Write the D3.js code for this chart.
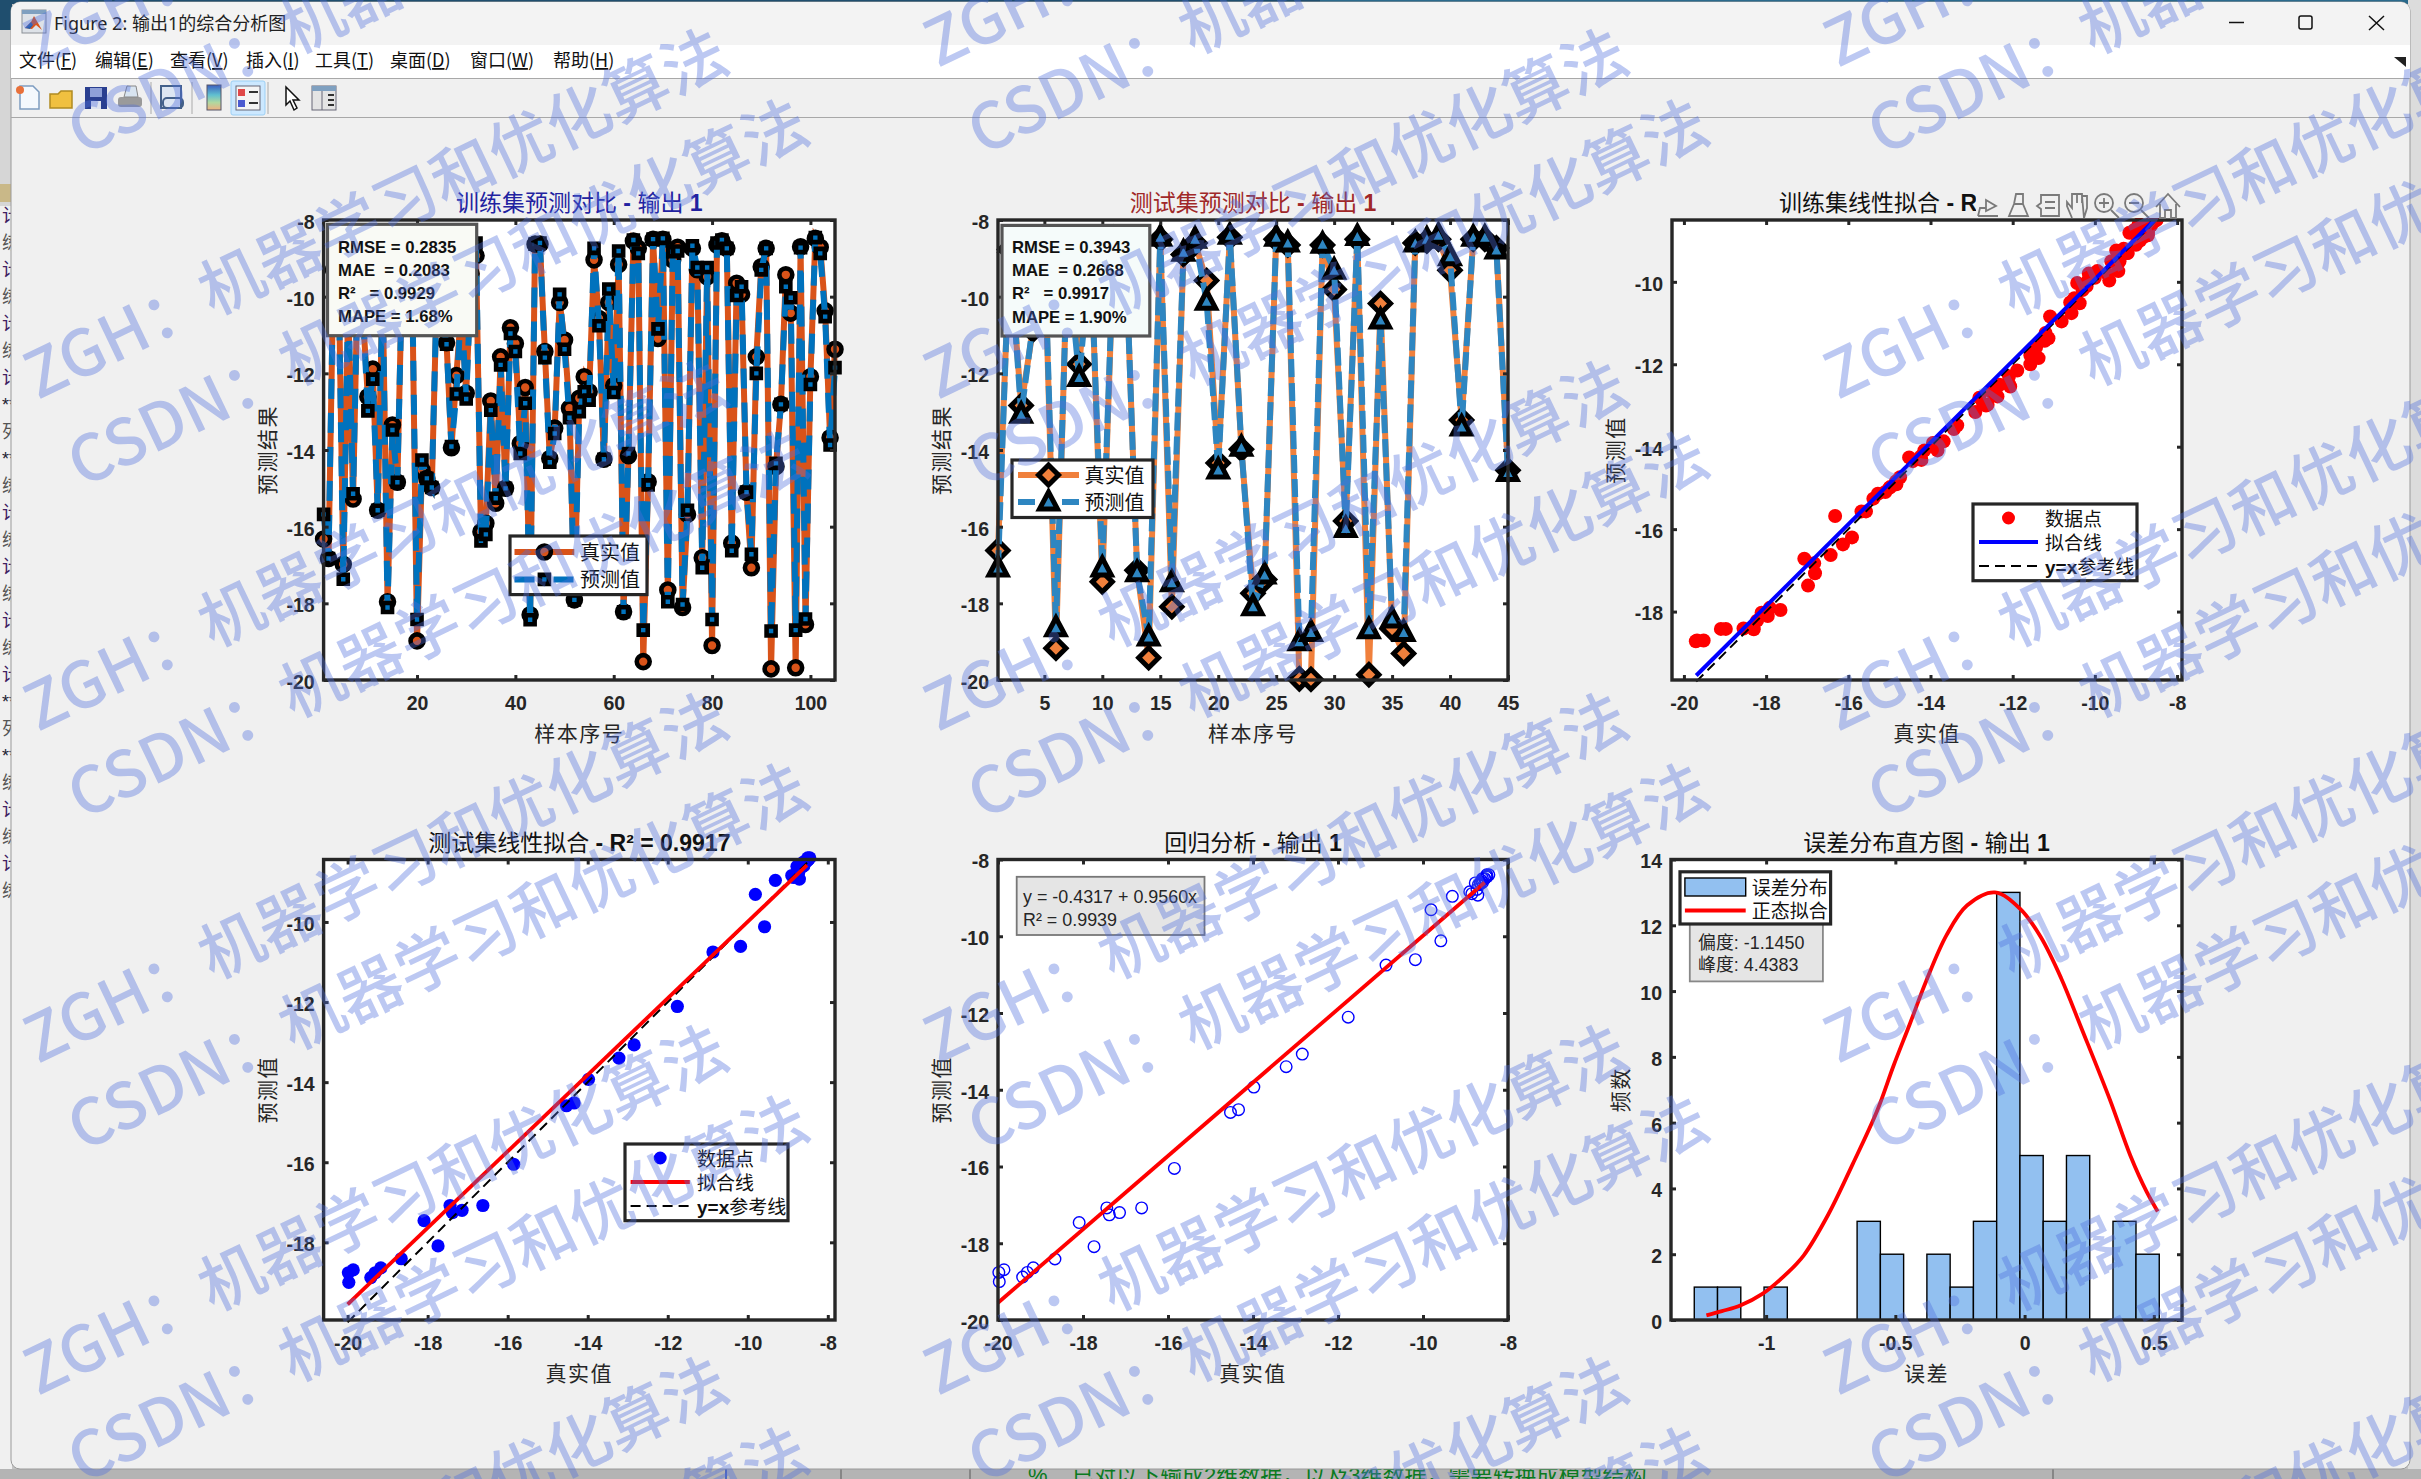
<!DOCTYPE html>
<html>
<head>
<meta charset="utf-8">
<title>Figure 2</title>
<script src="https://cdn.jsdelivr.net/npm/d3@7"></script>
<style>
  html, body { margin: 0; padding: 0; background: #c4c4c4; }
  svg { display: block; }
  text { font-family: "Liberation Sans", "Noto Sans CJK SC", sans-serif; white-space: pre; }
</style>
</head>
<body>
<svg id="fig" width="2421" height="1479"></svg>
<script>
// ---- values ----
// values behind the stats boxes are estimates
const trainTrue = [-16.32,-16.83,-9.3,-8.9,-16.98,-10.2,-15.28,-9.0,-10.5,-12.61,-11.89,-15.57,-9.7,-17.96,-13.35,-14.84,-9.2,-8.8,-9.6,-18.98,-14.52,-14.74,-14.98,-10.0,-10.6,-11.2,-13.94,-12.06,-10.3,-12.52,-9.4,-8.93,-16.13,-15.91,-12.72,-15.39,-11.57,-15.0,-10.81,-11.22,-13.83,-12.37,-18.3,-8.63,-8.63,-11.43,-14.22,-13.43,-10.15,-11.13,-12.91,-17.91,-12.65,-12.09,-12.48,-9.04,-10.57,-14.24,-10.15,-12.32,-9.16,-18.22,-14.15,-8.55,-8.74,-19.52,-14.83,-8.5,-11.09,-8.5,-17.65,-9.04,-8.71,-18.11,-15.68,-8.74,-9.3,-16.81,-9.48,-19.1,-8.65,-8.54,-8.74,-16.43,-9.65,-9.94,-15.1,-17.07,-11.57,-9.22,-8.74,-19.71,-14.43,-12.81,-9.43,-10.43,-19.68,-8.7,-18.55,-12.09,-8.48,-8.71,-10.37,-13.68,-11.37];
const trainPred = [-15.68,-16.83,-9.2,-9.0,-17.37,-10.1,-15.14,-9.1,-10.4,-12.98,-12.15,-15.57,-9.8,-18.11,-13.48,-14.84,-9.3,-8.9,-9.5,-18.42,-14.26,-14.74,-14.98,-9.9,-10.5,-11.24,-13.91,-12.54,-10.2,-12.67,-9.5,-8.6,-16.37,-16.2,-12.96,-15.26,-11.78,-15.0,-10.96,-11.43,-14.09,-12.78,-18.43,-8.63,-8.6,-11.59,-14.32,-13.57,-9.94,-11.37,-13.16,-17.91,-13.0,-12.48,-12.7,-8.74,-10.76,-14.24,-9.8,-12.5,-8.81,-18.22,-14.09,-8.52,-8.87,-18.7,-14.91,-8.5,-10.84,-8.48,-17.96,-8.83,-8.81,-18.03,-15.57,-8.67,-9.24,-17.07,-9.24,-18.42,-8.6,-8.52,-8.74,-16.63,-9.97,-9.74,-15.1,-16.72,-12.0,-9.3,-8.74,-18.72,-14.35,-12.81,-9.74,-10.03,-18.7,-8.72,-18.41,-12.29,-8.46,-8.87,-10.52,-13.87,-11.85];

const testTrue = [-16.62,-8.77,-12.84,-10.87,-8.62,-19.17,-8.71,-11.76,-8.85,-17.44,-8.55,-8.7,-17.14,-19.42,-8.5,-18.09,-8.9,-8.6,-9.58,-14.34,-8.45,-13.98,-17.74,-17.38,-8.5,-8.65,-19.97,-19.98,-8.65,-9.81,-15.85,-8.5,-19.86,-10.18,-18.66,-19.31,-8.6,-8.55,-8.5,-9.31,-13.22,-8.5,-8.5,-8.73,-14.53];
const testPred = [-17.08,-8.61,-13.07,-10.75,-8.55,-18.64,-8.93,-12.11,-8.89,-17.08,-8.5,-8.66,-17.2,-18.88,-8.45,-17.46,-8.84,-8.5,-10.12,-14.52,-8.4,-13.93,-18.09,-17.26,-8.45,-8.6,-19.0,-18.76,-8.63,-9.31,-16.05,-8.43,-18.69,-10.61,-18.41,-18.76,-8.6,-8.5,-8.4,-8.96,-13.4,-8.45,-8.45,-8.78,-14.59];

const fitTrainX = [-19.7, -8.55];
const fitTrainY = [-19.55, -8.5];
const refTrainX = [-19.7, -8.5];
const fitTestX = [-20, -8.52];
const fitTestY = [-19.55, -8.58];
const refTestX = [-20, -8.5];
const fitRegX = [-20, -8.55];
const fitRegY = [-19.55, -8.6];

const histEdges = [-1.278,-1.188,-1.098,-1.008,-0.918,-0.828,-0.738,-0.648,-0.558,-0.468,-0.378,-0.288,-0.198,-0.108,-0.018,0.072,0.162,0.252,0.342,0.431,0.521];
const histCounts = [1,1,0,1,0,0,0,3,2,0,2,1,3,13,5,3,5,0,3,2];
const normalX = [-1.231,-1.171,-1.10,-1.013,-0.934,-0.855,-0.76,-0.665,-0.57,-0.507,-0.444,-0.381,-0.302,-0.223,-0.115,-0.017,0.062,0.141,0.22,0.33,0.409,0.472,0.515];
const normalY = [0.14,0.27,0.44,0.80,1.31,1.96,3.20,4.74,6.37,7.73,9.0,10.3,11.7,12.6,13.0,12.5,11.65,10.4,8.87,6.7,5.0,3.9,3.3];

const yTicks = [-8,-10,-12,-14,-16,-18,-20];
const yTicksInner = [-10,-12,-14,-16,-18];
const xTicksScatter = [-20,-18,-16,-14,-12,-10,-8];

const menuItems = [['文件','F'],['编辑','E'],['查看','V'],['插入','I'],['工具','T'],['桌面','D'],['窗口','W'],['帮助','H']];
const editorFragments = ['计','练','计','练','计','练','计','**','列','**','练','计','练','计','练','计','练','计','**','列','**','练','计','练','计','练'];

// ---- colours ----
const orange1 = '#d95319', blue1 = '#0072bd';
const orange2 = '#f0803c', blue2 = '#2e86c1';
const axisColor = '#262626';

const svg = d3.select('#fig');

// ---- desktop behind the window ----
svg.append('rect').attr('width', 2421).attr('height', 1479).attr('fill', '#c4c4c4');
svg.append('rect').attr('width', 1320).attr('height', 4).attr('fill', '#1f4e6e');
svg.append('rect').attr('x', 1320).attr('width', 1101).attr('height', 4).attr('fill', '#2a6a8c');
svg.append('rect').attr('width', 12).attr('height', 30).attr('fill', '#1f4e6e');
svg.append('rect').attr('y', 30).attr('width', 12).attr('height', 176).attr('fill', '#d6d6d6');
svg.append('rect').attr('y', 206).attr('width', 12).attr('height', 1263).attr('fill', '#f0f0f0');
svg.append('rect').attr('y', 184).attr('width', 11).attr('height', 18).attr('fill', '#c9b888');
svg.append('rect').attr('x', 2408).attr('width', 13).attr('height', 1479).attr('fill', '#dcdcdc');
svg.selectAll('.frag').data(editorFragments).join('text')
    .attr('class', 'frag')
    .attr('x', 2)
    .attr('y', (d, i) => 222 + i * 27)
    .attr('font-size', 18)
    .attr('fill', d => d === '**' ? '#223' : (d === '计' ? '#402060' : '#555'))
    .text(d => d);
svg.append('rect').attr('y', 1469).attr('width', 2421).attr('height', 10).attr('fill', '#b4b4b4');
[726, 841, 970, 2053].forEach(x => {
    svg.append('line').attr('x1', x).attr('x2', x).attr('y1', 1469).attr('y2', 1479)
        .attr('stroke', x === 726 ? '#3050c0' : '#777').attr('stroke-width', 1.5);
});
svg.append('text').attr('x', 1028).attr('y', 1483).attr('font-size', 22).attr('fill', '#0a7a20')
    .text('%    已对以下输成2维数据，以及3维数据，需要转换成模型结构');

// ---- window ----
svg.append('rect').attr('x', 11).attr('y', 2).attr('width', 2399).attr('height', 1467).attr('rx', 9)
    .attr('fill', '#f0f0f0').attr('stroke', '#9a9a9a').attr('stroke-width', 1);
svg.append('path').attr('d', 'M11,45 V11 a9,9 0 0 1 9,-9 H2401 a9,9 0 0 1 9,9 V45 Z').attr('fill', '#f3f3f3');
svg.append('rect').attr('x', 11).attr('y', 45).attr('width', 2399).attr('height', 33).attr('fill', '#fff');
svg.append('line').attr('x1', 11).attr('x2', 2410).attr('y1', 78.5).attr('y2', 78.5).attr('stroke', '#a8a8a8').attr('stroke-width', 1.2);
svg.append('line').attr('x1', 11).attr('x2', 2410).attr('y1', 117.5).attr('y2', 117.5).attr('stroke', '#a8a8a8').attr('stroke-width', 1.2);

// title bar
const logo = svg.append('g').attr('transform', 'translate(22,10)');
logo.append('rect').attr('width', 24).attr('height', 23).attr('fill', '#dde2e8').attr('stroke', '#8a8f96');
logo.append('rect').attr('width', 24).attr('height', 4).attr('fill', '#7fa0c0');
logo.append('path').attr('d', 'M3,18 L9,12 L12,6 L20,20 L14,15 L10,19 Z').attr('fill', '#d9551e');
logo.append('path').attr('d', 'M3,18 L9,12 L11,15 L8,19 Z').attr('fill', '#2a5fa8');
svg.append('text').attr('x', 54).attr('y', 30).attr('font-size', 18).attr('fill', '#222')
    .style('font-family', '"Noto Sans", "Noto Sans CJK SC", sans-serif')
    .text('Figure 2: 输出1的综合分析图');

// window buttons
const winBtn = svg.append('g').attr('stroke', '#111').attr('stroke-width', 1.5).attr('fill', 'none');
winBtn.append('line').attr('x1', 2229).attr('x2', 2244).attr('y1', 22.5).attr('y2', 22.5);
winBtn.append('rect').attr('x', 2299).attr('y', 16).attr('width', 13).attr('height', 13).attr('rx', 2);
winBtn.append('path').attr('d', 'M2369,16 L2384,30 M2384,16 L2369,30');
svg.append('path').attr('d', 'M2394,57 L2406,57 L2406,67 Z').attr('fill', '#222');

// menu
const menuX = [19, 95, 170, 246, 315, 390, 470, 553];
menuItems.forEach((m, i) => {
    const t = svg.append('text').attr('x', menuX[i]).attr('y', 67).attr('font-size', 18).attr('fill', '#111')
        .style('font-family', '"Noto Sans CJK SC", sans-serif');
    t.append('tspan').text(m[0] + '(');
    t.append('tspan').attr('text-decoration', 'underline').text(m[1]);
    t.append('tspan').text(')');
});

// toolbar icons
function drawToolbar() {
    const g = svg.append('g');
    g.append('path').attr('d', 'M20,86 H33 L39,92 V109 H20 Z').attr('fill', '#f4f8fd').attr('stroke', '#7d9cc0').attr('stroke-width', 1.5);
    g.append('circle').attr('cx', 20).attr('cy', 90).attr('r', 4).attr('fill', '#e8703a');
    g.append('path').attr('d', 'M50,94 H58 L61,91 H72 V108 H50 Z').attr('fill', '#f0c040').attr('stroke', '#b08a20').attr('stroke-width', 1.5);
    g.append('rect').attr('x', 85).attr('y', 87).attr('width', 22).attr('height', 22).attr('fill', '#2a3f90');
    g.append('rect').attr('x', 90).attr('y', 88).attr('width', 12).attr('height', 9).attr('fill', '#8fa0d8');
    g.append('rect').attr('x', 91).attr('y', 101).attr('width', 10).attr('height', 8).attr('fill', '#dfe3ef');
    g.append('rect').attr('x', 118).attr('y', 97).attr('width', 24).attr('height', 10).attr('rx', 3).attr('fill', '#9a9a9a');
    g.append('path').attr('d', 'M124,97 L127,86 H136 L138,97 Z').attr('fill', '#d8e4f0').attr('stroke', '#888');
    g.append('line').attr('x1', 151).attr('x2', 151).attr('y1', 82).attr('y2', 114).attr('stroke', '#aaa');
    g.append('rect').attr('x', 161).attr('y', 86).attr('width', 20).attr('height', 22).attr('fill', '#dde6f2').attr('stroke', '#44618a').attr('stroke-width', 2);
    g.append('rect').attr('x', 163).attr('y', 98).attr('width', 20).attr('height', 10).attr('rx', 4).attr('fill', 'none').attr('stroke', '#44618a').attr('stroke-width', 2);
    g.append('line').attr('x1', 192).attr('x2', 192).attr('y1', 82).attr('y2', 114).attr('stroke', '#aaa');
    const grad = svg.append('defs').append('linearGradient').attr('id', 'cbar').attr('x1', 0).attr('x2', 0).attr('y1', 0).attr('y2', 1);
    [['0%', '#3b5fc0'], ['40%', '#60c0d0'], ['70%', '#b0d8a0'], ['100%', '#f0b080']].forEach(s => grad.append('stop').attr('offset', s[0]).attr('stop-color', s[1]));
    g.append('rect').attr('x', 207).attr('y', 85).attr('width', 14).attr('height', 25).attr('fill', 'url(#cbar)').attr('stroke', '#556');
    g.append('rect').attr('x', 231).attr('y', 81).attr('width', 34).attr('height', 34).attr('rx', 2).attr('fill', '#cce8ff').attr('stroke', '#9cd0f5');
    g.append('rect').attr('x', 236).attr('y', 86).attr('width', 24).attr('height', 24).attr('fill', '#f4f4f4').attr('stroke', '#667');
    g.append('rect').attr('x', 238).attr('y', 89).attr('width', 7).attr('height', 7).attr('fill', '#e04848');
    g.append('rect').attr('x', 238).attr('y', 100).attr('width', 7).attr('height', 7).attr('fill', '#4a5ad0');
    g.append('path').attr('d', 'M249,92 H258 M249,103 H258').attr('stroke', '#333').attr('stroke-width', 2);
    g.append('line').attr('x1', 268).attr('x2', 268).attr('y1', 82).attr('y2', 114).attr('stroke', '#aaa');
    g.append('path').attr('d', 'M286,87 L286,105 L290,101 L294,110 L297,108 L293,100 L299,100 Z').attr('fill', '#fff').attr('stroke', '#111').attr('stroke-width', 1.5);
    g.append('rect').attr('x', 312).attr('y', 86).attr('width', 24).attr('height', 24).attr('fill', '#e4e4e4').attr('stroke', '#667');
    g.append('rect').attr('x', 312).attr('y', 86).attr('width', 24).attr('height', 5).attr('fill', '#7fa0c0');
    g.append('path').attr('d', 'M328,95 H334 M328,100 H334 M328,105 H334').attr('stroke', '#333').attr('stroke-width', 2);
    g.append('line').attr('x1', 322).attr('x2', 322).attr('y1', 91).attr('y2', 110).attr('stroke', '#667');
}
drawToolbar();

// ---- chart helpers ----
const isCjk = ch => /[\u3000-\u9fff\uff00-\uffef]/.test(ch);

// CJK stays regular, latin parts come out bold, like the figure
function mixedText(sel, str, boldLatin) {
    const parts = str.match(/[\u3000-\u9fff\uff00-\uffef]+|[^\u3000-\u9fff\uff00-\uffef]+/g) || [];
    parts.forEach(p => {
        sel.append('tspan')
            .style('font-weight', !isCjk(p[0]) && boldLatin ? 'bold' : 'normal')
            .text(p);
    });
    return sel;
}

function makeAxes(opts) {
    const g = svg.append('g').attr('class', 'panel');
    const x = d3.scaleLinear().domain(opts.xDomain).range([opts.left, opts.right]);
    const y = d3.scaleLinear().domain(opts.yDomain).range([opts.bottom, opts.top]);
    g.append('rect').attr('x', opts.left).attr('y', opts.top)
        .attr('width', opts.right - opts.left).attr('height', opts.bottom - opts.top).attr('fill', '#fff');

    const layer = g.append('g').attr('class', 'marks');
    const frame = g.append('g').attr('class', 'frame');

    const styleAxis = a => {
        a.selectAll('.domain').remove();
        a.selectAll('.tick line').attr('stroke', axisColor).attr('stroke-width', 3);
        a.selectAll('text').attr('fill', axisColor).attr('font-size', 19.5).attr('font-weight', 'bold')
            .style('font-family', '"Liberation Sans", sans-serif');
    };
    const fmt = d => String(d);
    frame.append('g').attr('transform', `translate(0,${opts.bottom})`)
        .call(d3.axisBottom(x).tickValues(opts.xTicks).tickSize(-5).tickPadding(16.5).tickFormat(fmt)).call(styleAxis);
    frame.append('g').attr('transform', `translate(0,${opts.top})`)
        .call(d3.axisTop(x).tickValues(opts.xTicks).tickSize(-5).tickFormat('')).call(styleAxis);
    const yAxisG = frame.append('g').attr('transform', `translate(${opts.left},0)`)
        .call(d3.axisLeft(y).tickValues(opts.yTicks).tickSize(-5).tickPadding(9).tickFormat(fmt)).call(styleAxis);
    yAxisG.selectAll('text').attr('dy', '0.43em');
    frame.append('g').attr('transform', `translate(${opts.right},0)`)
        .call(d3.axisRight(y).tickValues(opts.yTicks).tickSize(-5).tickFormat('')).call(styleAxis);
    frame.append('rect').attr('x', opts.left).attr('y', opts.top)
        .attr('width', opts.right - opts.left).attr('height', opts.bottom - opts.top)
        .attr('fill', 'none').attr('stroke', axisColor).attr('stroke-width', 3.4);

    // title
    const title = g.append('text').attr('y', opts.top - 9).attr('font-size', 23).attr('fill', opts.titleColor || '#111');
    if (opts.titleX !== undefined) {
        title.attr('x', opts.titleX);
    } else {
        title.attr('x', (opts.left + opts.right) / 2).attr('text-anchor', 'middle');
    }
    mixedText(title, opts.title, true);

    // axis labels
    g.append('text').attr('x', (opts.left + opts.right) / 2).attr('y', opts.bottom + 61).attr('text-anchor', 'middle')
        .attr('font-size', 21).attr('letter-spacing', 1.5).attr('fill', axisColor).text(opts.xLabel);
    g.append('text').attr('transform', `translate(${opts.yLabelX + 8},${(opts.top + opts.bottom) / 2}) rotate(-90)`)
        .attr('text-anchor', 'middle').attr('font-size', 21).attr('letter-spacing', 1.5).attr('fill', axisColor).text(opts.yLabel);

    return { g, x, y, layer };
}

const markerPaths = {
    diamond: 'M0,-10 L10,0 L0,10 L-10,0 Z',
    triangle: 'M0,-10 L9,7 L-9,7 Z',
    square: d3.symbol(d3.symbolSquare, 81)(),
    circle: d3.symbol(d3.symbolCircle, Math.PI * 42)()
};

function drawSeries(layer, xs, ys, scaleX, scaleY, s) {
    const line = d3.line().x((d, i) => scaleX(xs[i])).y(d => scaleY(d));
    layer.append('path').attr('d', line(ys)).attr('fill', 'none').attr('stroke', s.color)
        .attr('stroke-width', s.width).attr('stroke-dasharray', s.dash || null);
    layer.selectAll(null).data(ys).join('path')
        .attr('d', markerPaths[s.marker])
        .attr('transform', (d, i) => `translate(${scaleX(xs[i])},${scaleY(d)})`)
        .attr('fill', s.color).attr('stroke', '#000').attr('stroke-width', s.mw);
}

function statsBox(g, b) {
    g.append('rect').attr('x', b.x0).attr('y', b.y0).attr('width', b.x1 - b.x0).attr('height', b.y1 - b.y0)
        .attr('fill', b.fill).attr('stroke', b.stroke).attr('stroke-width', b.sw);
    b.lines.forEach((str, i) => {
        g.append('text').attr('x', b.tx).attr('y', b.ty[i]).attr('font-size', b.fs)
            .attr('font-weight', b.bold ? 'bold' : 'normal').attr('fill', b.color || '#111').text(str);
    });
}

function legendBox(g, b) {
    g.append('rect').attr('x', b.x0).attr('y', b.y0).attr('width', b.x1 - b.x0).attr('height', b.y1 - b.y0)
        .attr('fill', '#fff').attr('stroke', axisColor).attr('stroke-width', 3.2);
    b.rows.forEach(r => {
        if (r.line) {
            g.append('line').attr('x1', b.kx0).attr('x2', b.kx1).attr('y1', r.y).attr('y2', r.y)
                .attr('stroke', r.line).attr('stroke-width', r.width).attr('stroke-dasharray', r.dash || null);
        }
        if (r.patch) {
            g.append('rect').attr('x', b.kx0).attr('y', r.y - 9).attr('width', b.kx1 - b.kx0).attr('height', 18)
                .attr('fill', r.patch).attr('stroke', '#000').attr('stroke-width', 1.4);
        }
        if (r.marker) {
            g.append('path').attr('d', markerPaths[r.marker])
                .attr('transform', `translate(${(b.kx0 + b.kx1) / 2},${r.y})`)
                .attr('fill', r.fill).attr('stroke', r.mstroke).attr('stroke-width', r.mw);
        }
        const t = g.append('text').attr('x', b.tx).attr('y', r.y + 8).attr('font-size', b.fs).attr('fill', '#111');
        mixedText(t, r.label, true);
    });
}

// ---- top row ----
const rowTop = { top: 220, bottom: 680 };
const rowBot = { top: 859.5, bottom: 1320 };
const col1 = { left: 323.6, right: 835 };
const col2 = { left: 998, right: 1508 };
const col3 = { left: 1672, right: 2182 };

const trainIdx = trainTrue.map((d, i) => i + 1);
const testIdx = testTrue.map((d, i) => i + 1);

// train series
const p1 = makeAxes({ ...col1, ...rowTop, xDomain: [1, 105], yDomain: [-20, -8],
    xTicks: [20, 40, 60, 80, 100], yTicks,
    title: '训练集预测对比 - 输出 1', titleColor: '#2222a0', xLabel: '样本序号', yLabel: '预测结果', yLabelX: 267 });
drawSeries(p1.layer, trainIdx, trainTrue, p1.x, p1.y, { color: orange1, width: 6, marker: 'circle', mw: 4.6 });
drawSeries(p1.layer, trainIdx, trainPred, p1.x, p1.y, { color: blue1, width: 6, dash: '20 14', marker: 'square', mw: 4.6 });
statsBox(p1.g, { x0: 327.5, x1: 476.7, y0: 224.3, y1: 335.7, fill: '#f9faf5', stroke: '#555', sw: 3.2,
    tx: 338, ty: [253, 276, 299, 322], fs: 16.7, bold: true,
    lines: ['RMSE = 0.2835', 'MAE  = 0.2083', 'R²   = 0.9929', 'MAPE = 1.68%'] });
legendBox(p1.g, { x0: 510, x1: 647, y0: 536, y1: 594.6, kx0: 514.5, kx1: 574.3, tx: 580, fs: 20,
    rows: [
        { y: 552, line: orange1, width: 6, marker: 'circle', fill: orange1, mstroke: '#000', mw: 4.6, label: '真实值' },
        { y: 579.4, line: blue1, width: 6, dash: '20 19', marker: 'square', fill: blue1, mstroke: '#000', mw: 4.6, label: '预测值' }
    ] });

// test series
const p2 = makeAxes({ ...col2, ...rowTop, xDomain: [1, 45], yDomain: [-20, -8],
    xTicks: [5, 10, 15, 20, 25, 30, 35, 40, 45], yTicks,
    title: '测试集预测对比 - 输出 1', titleColor: '#a02828', xLabel: '样本序号', yLabel: '预测结果', yLabelX: 941 });
drawSeries(p2.layer, testIdx, testTrue, p2.x, p2.y, { color: orange2, width: 6, marker: 'diamond', mw: 5 });
drawSeries(p2.layer, testIdx, testPred, p2.x, p2.y, { color: blue2, width: 6, dash: '18 6', marker: 'triangle', mw: 5 });
statsBox(p2.g, { x0: 1002, x1: 1149.8, y0: 225.4, y1: 336, fill: '#f5fbfa', stroke: '#555', sw: 3.2,
    tx: 1012, ty: [253, 276, 299, 322.5], fs: 16.7, bold: true,
    lines: ['RMSE = 0.3943', 'MAE  = 0.2668', 'R²   = 0.9917', 'MAPE = 1.90%'] });
legendBox(p2.g, { x0: 1012, x1: 1153, y0: 460, y1: 517.5, kx0: 1018, kx1: 1079, tx: 1084.5, fs: 20,
    rows: [
        { y: 475, line: orange2, width: 6, marker: 'diamond', fill: orange2, mstroke: '#000', mw: 5, label: '真实值' },
        { y: 502, line: blue2, width: 6, dash: '17 27', marker: 'triangle', fill: blue2, mstroke: '#000', mw: 5, label: '预测值' }
    ] });

// scatter panels share this
function scatterPanel(p, xs, ys, s) {
    p.layer.selectAll(null).data(ys).join('circle')
        .attr('cx', (d, i) => p.x(xs[i])).attr('cy', d => p.y(d)).attr('r', s.r)
        .attr('fill', s.fill).attr('stroke', s.stroke).attr('stroke-width', s.sw);
}
function segment(p, xs, ys, color, width, dash) {
    const line = d3.line().x((d, i) => p.x(xs[i])).y(d => p.y(d));
    p.layer.append('path').attr('d', line(ys)).attr('fill', 'none')
        .attr('stroke', color).attr('stroke-width', width).attr('stroke-dasharray', dash || null);
}

const p3 = makeAxes({ ...col3, ...rowTop, xDomain: [-20.29, -7.88], yDomain: [-19.66, -8.5],
    xTicks: xTicksScatter, yTicks: yTicksInner, titleX: 1779,
    title: '训练集线性拟合 - R² = 0.9929', xLabel: '真实值', yLabel: '预测值', yLabelX: 1615 });
scatterPanel(p3, trainTrue, trainPred, { r: 7, fill: '#ff0000', stroke: 'none', sw: 0 });
segment(p3, refTrainX, refTrainX, '#000', 2, '10 6');
segment(p3, fitTrainX, fitTrainY, '#0000ff', 4);
legendBox(p3.g, { x0: 1973, x1: 2137, y0: 504, y1: 580.7, kx0: 1979, kx1: 2038, tx: 2045, fs: 19,
    rows: [
        { y: 518, marker: 'circle', fill: '#ff0000', mstroke: 'none', mw: 0, label: '数据点' },
        { y: 542, line: '#0000ff', width: 4, label: '拟合线' },
        { y: 566, line: '#000', width: 2, dash: '10 6', label: 'y=x参考线' }
    ] });

// axes toolbar sits over the end of this title
const tb = svg.append('g');
tb.append('rect').attr('x', 1976).attr('y', 188).attr('width', 206).attr('height', 30).attr('fill', '#f0f0f0');
const tbIcons = tb.append('g').attr('fill', 'none').attr('stroke', '#7a7a7a').attr('stroke-width', 1.8).attr('transform', 'translate(0,206)');
tbIcons.append('path').attr('d', 'M1978,10 L1980,2 H1986 M1986,-6 L1996,0 L1986,5 Z M1978,10 H1998');
tbIcons.append('path').attr('d', 'M2016,-12 H2023 V-2 L2028,10 H2009 L2014,-2 Z M2014,-2 H2023');
tbIcons.append('path').attr('d', 'M2041,-11 H2059 V10 H2041 V3 L2037,0 L2041,-3 Z M2045,-4 H2055 M2045,2 H2055');
tbIcons.append('path').attr('d', 'M2072,12 L2067,0 V-4 L2072,2 V-10 M2072,-4 V-12 H2077 V-3 M2077,-12 H2082 V-3 M2082,-10 H2087 V2 L2084,12 Z');
tbIcons.append('circle').attr('cx', 2104).attr('cy', -3).attr('r', 9);
tbIcons.append('path').attr('d', 'M2111,4 L2119,12 M2099,-3 H2109 M2104,-8 V2');
tbIcons.append('circle').attr('cx', 2134).attr('cy', -3).attr('r', 9);
tbIcons.append('path').attr('d', 'M2141,4 L2149,12 M2129,-3 H2139');
tbIcons.append('path').attr('d', 'M2156,1 L2168,-12 L2180,1 M2160,-2 V12 H2165 V4 H2171 V12 H2176 V-2');

// ---- bottom row ----
const p4 = makeAxes({ ...col1, ...rowBot, xDomain: [-20.6, -7.82], yDomain: [-19.94, -8.44],
    xTicks: xTicksScatter, yTicks: yTicksInner,
    title: '测试集线性拟合 - R² = 0.9917', xLabel: '真实值', yLabel: '预测值', yLabelX: 266.5 });
scatterPanel(p4, testTrue, testPred, { r: 6.6, fill: '#0000ff', stroke: 'none', sw: 0 });
segment(p4, refTestX, refTestX, '#000', 2, '10 6');
segment(p4, fitTestX, fitTestY, '#ff0000', 3.8);
legendBox(p4.g, { x0: 625, x1: 788, y0: 1144, y1: 1220.7, kx0: 630.6, kx1: 689.8, tx: 697, fs: 19,
    rows: [
        { y: 1158, marker: 'circle', fill: '#0000ff', mstroke: 'none', mw: 0, label: '数据点' },
        { y: 1182, line: '#ff0000', width: 4, label: '拟合线' },
        { y: 1206, line: '#000', width: 2, dash: '10 6', label: 'y=x参考线' }
    ] });

const p5 = makeAxes({ ...col2, ...rowBot, xDomain: [-20, -8], yDomain: [-20, -8],
    xTicks: xTicksScatter, yTicks,
    title: '回归分析 - 输出 1', xLabel: '真实值', yLabel: '预测值', yLabelX: 941 });
scatterPanel(p5, testTrue, testPred, { r: 5.8, fill: 'none', stroke: '#0000ff', sw: 1.4 });
segment(p5, fitRegX, fitRegY, '#ff0000', 3.8);
statsBox(p5.g, { x0: 1016.7, x1: 1204.5, y0: 876.8, y1: 935, fill: '#e5e5e5', stroke: '#777', sw: 1.8,
    tx: 1023, ty: [903, 926], fs: 17.9, color: '#262626',
    lines: ['y = -0.4317 + 0.9560x', 'R² = 0.9939'] });

const p6 = makeAxes({ ...col3, left: 1671, ...rowBot, xDomain: [-1.368, 0.609], yDomain: [0, 14],
    xTicks: [-1, -0.5, 0, 0.5], yTicks: [0, 2, 4, 6, 8, 10, 12, 14],
    title: '误差分布直方图 - 输出 1', xLabel: '误差', yLabel: '频数', yLabelX: 1620 });
p6.layer.selectAll('rect.bar').data(histCounts).join('rect')
    .attr('class', 'bar')
    .attr('x', (d, i) => p6.x(histEdges[i]))
    .attr('width', (d, i) => p6.x(histEdges[i + 1]) - p6.x(histEdges[i]))
    .attr('y', d => p6.y(d))
    .attr('height', d => p6.y(0) - p6.y(d))
    .attr('fill', '#92c0f0').attr('stroke', d => d > 0 ? '#000' : 'none').attr('stroke-width', 1.4);
const normalLine = d3.line().x((d, i) => p6.x(normalX[i])).y(d => p6.y(d)).curve(d3.curveCatmullRom);
p6.layer.append('path').attr('d', normalLine(normalY)).attr('fill', 'none').attr('stroke', '#ff0000').attr('stroke-width', 3.8);
statsBox(p6.g, { x0: 1689.8, x1: 1822.9, y0: 880, y1: 981.4, fill: '#e5e5e5', stroke: '#888', sw: 1.8,
    tx: 1698, ty: [948.6, 971], fs: 17.9, color: '#262626',
    lines: ['偏度: -1.1450', '峰度: 4.4383'] });
legendBox(p6.g, { x0: 1680, x1: 1830.6, y0: 871.8, y1: 924, kx0: 1684.9, kx1: 1745.7, tx: 1751.8, fs: 19,
    rows: [
        { y: 887, patch: '#92c0f0', label: '误差分布' },
        { y: 910.4, line: '#ff0000', width: 4, label: '正态拟合' }
    ] });

// ---- watermark, on top of everything ----
const markRows = d3.range(-2, 6);
const markCols = d3.range(0, 4);
const markLines = [
    { text: 'ZGH：机器学习和优化算法', x: 38, y: 400 },
    { text: 'CSDN：机器学习和优化算法', x: 82, y: 488 }
];
const wm = svg.append('g').attr('class', 'watermark').style('pointer-events', 'none');
markCols.forEach(c => {
    markRows.forEach(r => {
        markLines.forEach(l => {
            wm.append('text')
                .attr('transform', `translate(${l.x + c * 900},${l.y + r * 332}) rotate(-25.5)`)
                .attr('font-size', 64)
                .attr('font-weight', 500)
                .attr('fill', 'rgb(80,110,220)')
                .attr('fill-opacity', 0.38)
                .style('font-family', '"Noto Sans CJK SC", sans-serif')
                .text(l.text);
        });
    });
});
</script>
</body>
</html>
